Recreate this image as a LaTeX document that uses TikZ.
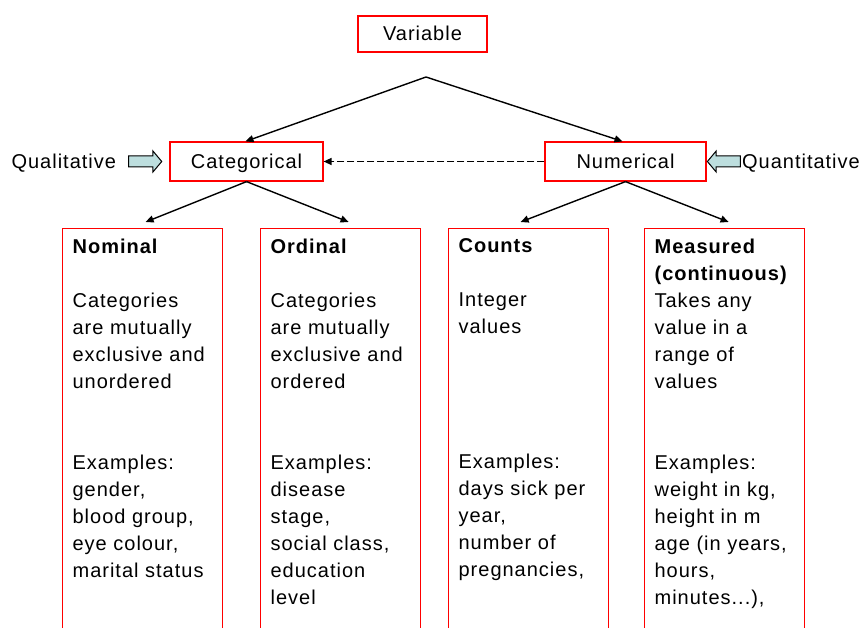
\documentclass[tikz,border=0pt]{standalone}
\usepackage{fontspec}
\setmainfont{Liberation Sans}[LetterSpace=5.0]
\usetikzlibrary{positioning,arrows.meta,shapes.arrows}
\definecolor{arrowfill}{HTML}{BDDEDE}

\begin{document}
\begin{tikzpicture}[x=1pt, y=-1pt]
        \tikzset{
            catbox/.style={draw=red, line width=1.2pt, inner sep=0pt, text height=16pt, text depth=2pt,
                font=\fontsize{20}{27}\selectfont},
            infobox/.style={draw=red, line width=1.2pt, anchor=north west, inner sep=10pt, font=\fontsize{20}{27}\selectfont},
            link/.style={-{Triangle[length=8pt,width=7pt]}, line width=1.4pt},
            blockarrow/.style={single arrow, draw, fill=arrowfill, line width=1pt, minimum height=33pt,
                inner sep=5pt, single arrow head extend=5pt, single arrow tip angle=100},
            sidelabel/.style={inner sep=0pt, text height=16pt, text depth=2pt, font=\fontsize{20}{27}\selectfont}
        }
        \useasboundingbox (0,0) rectangle (861,628);
        \clip (0,0) rectangle (861,628);

        % Top level
        \node[catbox, minimum width=129pt, minimum height=36pt] (variable) at (422.5,34) {Variable};
        \coordinate (split) at (426,77);

        % Second level
        \node[catbox, minimum width=153pt, minimum height=39pt] (categorical) at (246.5,161.5) {Categorical};
        \node[catbox, minimum width=161pt, minimum height=39pt] (numerical) at (625.5,161.5) {Numerical};

        \node[blockarrow, left=7pt of categorical] (qualarrow) {};
        \node[sidelabel, left=12pt of qualarrow] (qualitative) {Qualitative};
        \node[sidelabel, anchor=east] (quantitative) at (860,161.5) {Quantitative};
        \node[blockarrow, shape border rotate=180, left=1pt of quantitative] (quantarrow) {};

        \draw[link] (split) -- ([xshift=-1pt]categorical.north);
        \draw[link] (split) -- ([xshift=-3pt]numerical.north);
        \draw[link, dash pattern=on 7pt off 3pt] (numerical) -- (categorical);

        % Third level
        \node[infobox] (nominal) at (62,228) {\parbox[t][400pt][t]{140pt}{\raggedright
            \textbf{Nominal}\\[27pt]
            Categories\\ are mutually\\ exclusive and\\ unordered\\[54pt]
            Examples:\\ gender,\\ blood group,\\ eye colour,\\ marital status}};
        \node[infobox] (ordinal) at (260,228) {\parbox[t][400pt][t]{140pt}{\raggedright
            \textbf{Ordinal}\\[27pt]
            Categories\\ are mutually\\ exclusive and\\ ordered\\[54pt]
            Examples:\\ disease\\ stage,\\ social class,\\ education\\ level}};
        \node[infobox] (counts) at (448,228) {\parbox[t][400pt][t]{140pt}{\raggedright
            \textbf{Counts}\\[27pt]
            Integer\\ values\\[108pt]
            Examples:\\ days sick per\\ year,\\ number of\\ pregnancies,}};
        \node[infobox] (measured) at (644,228) {\parbox[t][400pt][t]{140pt}{\raggedright
            \textbf{Measured}\\ \textbf{(continuous)}\\
            Takes any\\ value in a\\ range of\\ values\\[54pt]
            Examples:\\ weight in kg,\\ height in m\\ age (in years,\\ hours,\\ minutes...),}};

        \draw[link] (categorical.south) -- ([shift={(3,-6)}]nominal.north);
        \draw[link] (categorical.south) -- ([shift={(8,-6)}]ordinal.north);
        \draw[link] (numerical.south) -- ([shift={(-8,-6)}]counts.north);
        \draw[link] (numerical.south) -- ([shift={(4,-6)}]measured.north);
\end{tikzpicture}
\end{document}
